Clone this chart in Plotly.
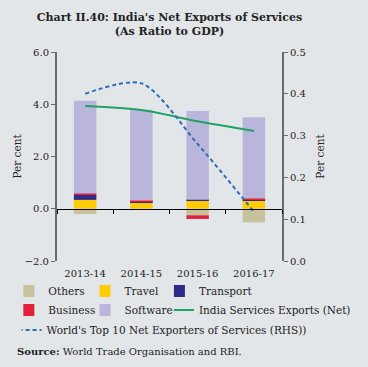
import plotly.graph_objects as go

years = ["2013-14", "2014-15", "2015-16", "2016-17"]
others = [-0.20, 0.0, -0.25, -0.52]
travel = [0.34, 0.25, 0.32, 0.32]
transport = [0.19, 0.04, 0.02, 0.03]
business = [0.05, 0.03, -0.14, 0.04]
software = [3.55, 3.48, 3.40, 3.11]
india_net = [3.93, 3.78, 3.35, 2.98]
world_top10 = [0.40, 0.425, 0.28, 0.118]

SERIF = "DejaVu Serif"
BG = "#E2E6E8"
AX = "#6b6b6b"
TXT = "#222"
W, H = 368, 367
ML, MR, MT, MB = 57, 57, 52, 106
PW = W - ML - MR
PH = H - MT - MB

fig = go.Figure()
bar_specs = [
    ("Others", others, "#C6C39C", "legend"),
    ("Travel", travel, "#FFCB05", "legend2"),
    ("Transport", transport, "#2E2A86", "legend3"),
    ("Business", business, "#E2203A", "legend4"),
    ("Software", software, "#BAB6DB", "legend5"),
]
for name, vals, col, lg in bar_specs:
    fig.add_trace(go.Bar(x=years, y=vals, name=name, marker_color=col,
                         marker_line_width=0, width=0.4, legend=lg))

fig.add_trace(go.Scatter(x=years, y=india_net, name="India Services Exports (Net)",
                         mode="lines", line=dict(color="#1FA463", width=2, shape="spline", smoothing=0.8),
                         legend="legend6"))
fig.add_trace(go.Scatter(x=years, y=world_top10, name="World's Top 10 Net Exporters of Services (RHS))",
                         mode="lines", line=dict(color="#2F6DB5", width=2, dash="4px,3px",
                                                 shape="spline", smoothing=0.8),
                         xaxis="x2", yaxis="y2", legend="legend7"))

legfont = dict(family=SERIF, size=10.5, color=TXT)
tickfont = dict(family=SERIF, size=10, color=TXT)


def leg(px, py):
    return dict(orientation="h", xref="paper", yref="paper",
                x=(px - ML) / PW, y=(H - MB - py) / PH, xanchor="left", yanchor="middle",
                font=legfont, bgcolor="rgba(0,0,0,0)", itemwidth=30, indentation=-15)


fig.update_layout(
    width=W, height=H,
    margin=dict(l=ML, r=MR, t=MT, b=MB),
    paper_bgcolor=BG, plot_bgcolor=BG,
    barmode="relative",
    title=dict(text="<b>Chart II.40: India's Net Exports of Services<br>(As Ratio to GDP)</b>",
               x=0.5, xanchor="center", xref="paper", y=1 - 21 / H, yanchor="middle", yref="container",
               font=dict(family=SERIF, size=11, color=TXT)),
    xaxis=dict(type="category", categoryarray=years, categoryorder="array",
               showline=False, ticks="", showgrid=False, tickfont=tickfont, ticklabelstandoff=5),
    xaxis2=dict(type="category", categoryarray=years, categoryorder="array",
                overlaying="x", matches="x", anchor="free", position=0.25,
                showline=True, linecolor="black", linewidth=1,
                ticks="outside", tickson="boundaries", ticklen=4, tickcolor="black",
                showticklabels=False, showgrid=False),
    yaxis=dict(range=[-2, 6], dtick=2, tickformat=".1f", showgrid=False, zeroline=False,
               showline=True, linecolor=AX, linewidth=2, ticks="outside", ticklen=4,
               tickcolor=AX, tickfont=tickfont,
               title=dict(text="Per cent", font=dict(family=SERIF, size=10.5, color=TXT), standoff=1)),
    yaxis2=dict(range=[0, 0.5], dtick=0.1, tickformat=".1f", showgrid=False, zeroline=False,
                overlaying="y", side="right", anchor="x",
                showline=True, linecolor=AX, linewidth=2, ticks="outside", ticklen=4,
                tickcolor=AX, tickfont=tickfont,
                title=dict(text="Per cent", font=dict(family=SERIF, size=10.5, color=TXT), standoff=12)),
    legend=leg(19, 291),
    legend2=leg(105, 291),
    legend3=leg(189, 291),
    legend4=leg(19, 310),
    legend5=leg(105, 310),
    legend6=leg(189, 310),
    legend7=leg(17, 330),
    showlegend=True,
)
fig.add_annotation(text="<b>Source:</b> World Trade Organisation and RBI.",
                   xref="paper", yref="paper", x=(10 - ML) / PW, y=(H - MB - 351) / PH,
                   xanchor="left", yanchor="middle",
                   showarrow=False, font=dict(family=SERIF, size=10, color=TXT))

fig.write_html("out.html", config={"displayModeBar": False},
               post_script="document.body.style.margin='0';")
